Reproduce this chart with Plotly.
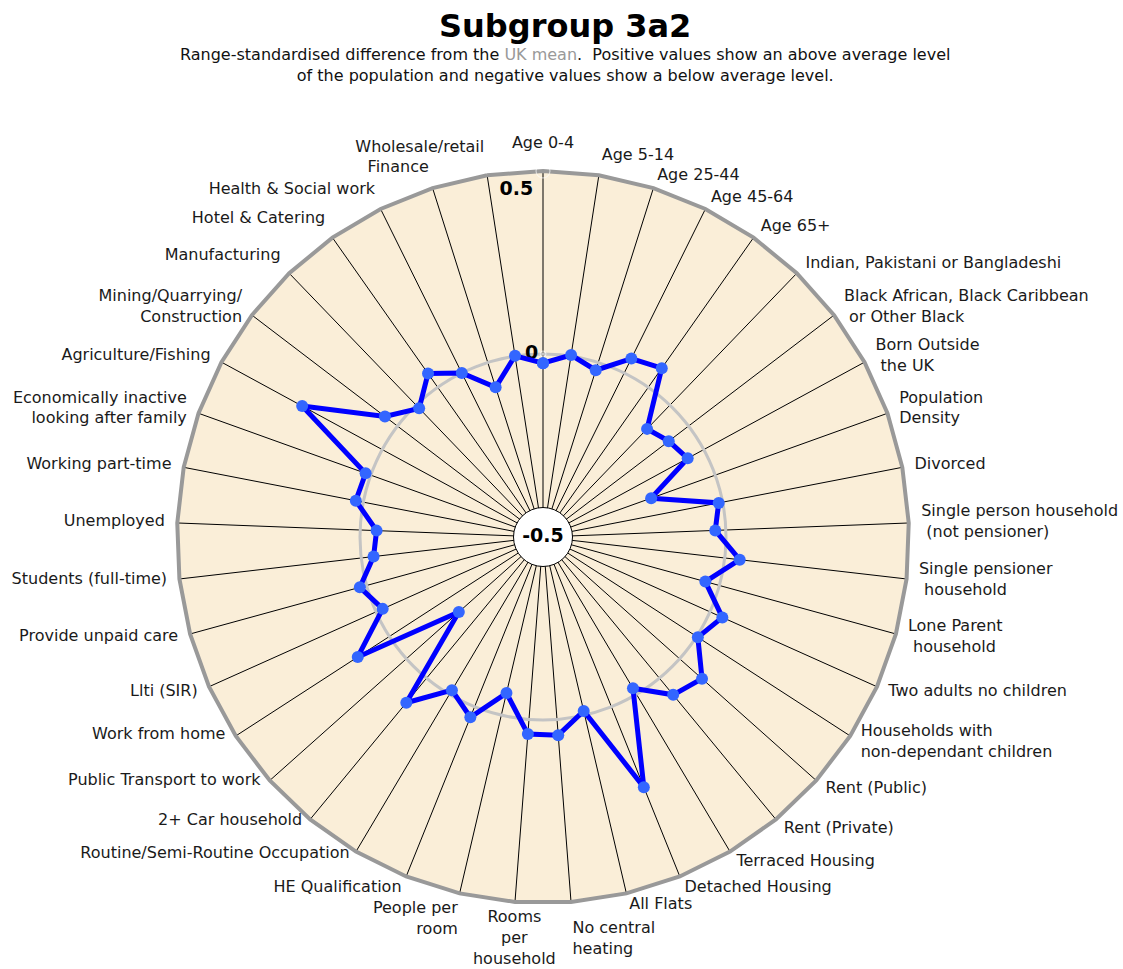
import plotly.graph_objects as go

# Indicator names, clockwise from the top of the chart
categories = [
    "Age 0-4", "Age 5-14", "Age 25-44", "Age 45-64", "Age 65+",
    "Indian, Pakistani or Bangladeshi",
    "Black African, Black Caribbean<br> or Other Black",
    "Born Outside<br> the UK", "Population<br>Density", "Divorced",
    "Single person household<br> (not pensioner)",
    "Single pensioner<br> household", "Lone Parent<br> household",
    "Two adults no children", "Households with<br>non-dependant children",
    "Rent (Public)", "Rent (Private)", "Terraced Housing", "Detached Housing",
    "All Flats", "No central<br>heating", "Rooms<br>per<br>household",
    "People per<br>room", "HE Qualification",
    "Routine/Semi-Routine Occupation", "2+ Car household",
    "Public Transport to work", "Work from home", "Llti (SIR)",
    "Provide unpaid care", "Students (full-time)", "Unemployed",
    "Working part-time", "Economically inactive<br>looking after family",
    "Agriculture/Fishing", "Mining/Quarrying/<br>Construction",
    "Manufacturing", "Hotel & Catering", "Health & Social work", "Finance",
    "Wholesale/retail",
]

# Range-standardised difference from the UK mean for Subgroup 3a2
values = [
    -0.025, 0.003, -0.022, 0.044, 0.064,
    -0.090, -0.068, -0.050, -0.186, -0.011,
    -0.029, 0.041, -0.040, 0.037, 0.004,
    0.082, 0.059, -0.019, 0.237, -0.012,
    0.043, 0.040, -0.062, 0.031, -0.013,
    0.087, -0.192, 0.103, -0.020, 0.019,
    -0.034, -0.045, 0.021, 0.015, 0.249,
    0.043, -0.012, 0.046, 0.000, -0.071,
    0.001,
]

radial_range = [-0.5, 0.5]
radial_labels = ["0.5", "0"]
radial_label_values = [0.5, 0.0]

FONT = "DejaVu Sans, Verdana, sans-serif"
W, H = 1123, 969
CX, CY, RIM = 543, 537, 366          # centre and rim radius of the chart, px
OVERSHOOT = 0.1                      # extra radial room on the overlay for labels
NEAR, SIDE, FAR = 0.022, 0.034, 0.052  # label distance beyond the rim (radial units)


def domain_for(radius):
    return dict(x=[(CX - radius) / W, (CX + radius) / W],
                y=[(H - CY - radius) / H, (H - CY + radius) / H])


def label_layout(index, count, name):
    """Text position and distance from the rim for a category name."""
    a = index * 360.0 / count
    multiline = "<br>" in name
    if index == 0:
        return "top center", FAR
    if a < 10:
        return "middle right", FAR
    if a < 170:
        return "middle right", SIDE
    if a < 180:
        return "bottom right", FAR
    if a < 190:
        return "bottom center", NEAR
    if a < 200:
        return "bottom left", NEAR
    if 205 < a < 240 or 305 < a < 350:
        return ("middle left" if multiline else "top left"), SIDE
    if a > 350:
        return "top left", FAR
    return "middle left", SIDE


layouts = [label_layout(i, len(categories), c) for i, c in enumerate(categories)]

fig = go.Figure()

# Invisible trace that anchors the polygon frame subplot
fig.add_trace(go.Scatterpolar(
    r=[None] * len(categories), theta=categories, mode="lines",
    showlegend=False, hoverinfo="skip", subplot="polar",
))

# Category names just outside the rim
fig.add_trace(go.Scatterpolar(
    r=[radial_range[1] + gap for _, gap in layouts], theta=categories,
    mode="text", text=categories,
    textposition=[pos for pos, _ in layouts],
    textfont=dict(family=FONT, size=16, color="#1a1a1a"),
    cliponaxis=False, showlegend=False, hoverinfo="skip", subplot="polar2",
))

# Radial value labels along the top spoke
fig.add_trace(go.Scatterpolar(
    r=radial_label_values, theta=[categories[0]] * 2, mode="markers+text",
    marker=dict(size=[14, 6], color="rgba(0,0,0,0)"),
    text=[f"<b>{t}</b>" for t in radial_labels],
    textposition=["bottom left", "middle left"],
    textfont=dict(family=FONT, size=19, color="#000000"),
    cliponaxis=False, showlegend=False, hoverinfo="skip", subplot="polar2",
))

# Profile line, closed back to the first indicator
fig.add_trace(go.Scatterpolar(
    r=values + values[:1], theta=categories + categories[:1],
    mode="lines+markers",
    line=dict(color="#0000FF", width=5),
    marker=dict(color="#3366FF", size=12),
    showlegend=False, subplot="polar2",
))

# Centre disc marking the bottom of the radial scale
fig.add_trace(go.Scatterpolar(
    r=[radial_range[0]], theta=[categories[0]], mode="markers+text",
    marker=dict(color="#FFFFFF", size=59, line=dict(color="#000000", width=1)),
    text=["<b>-0.5</b>"], textposition="middle center",
    textfont=dict(family=FONT, size=19, color="#000000"),
    showlegend=False, hoverinfo="skip", subplot="polar2",
))

angular_common = dict(
    type="category", categoryorder="array", categoryarray=categories,
    direction="clockwise", rotation=90,
)

fig.update_layout(
    width=W, height=H,
    margin=dict(l=0, r=0, t=0, b=0),
    paper_bgcolor="#FFFFFF",
    font=dict(family=FONT, color="#111111"),
    # Polygon frame: beige face, black spokes, grey rim
    polar=dict(
        domain=domain_for(RIM),
        gridshape="linear",
        bgcolor="#FAEED8",
        radialaxis=dict(range=radial_range, showgrid=False, showline=False,
                        showticklabels=False, ticks=""),
        angularaxis=dict(
            **angular_common,
            showline=True, linecolor="#999999", linewidth=4,
            showgrid=True, gridcolor="#000000", gridwidth=1,
            showticklabels=False, ticks="",
        ),
    ),
    # Transparent overlay on the same scale: zero circle, data and labels
    polar2=dict(
        domain=domain_for(RIM * (1 + OVERSHOOT)),
        bgcolor="rgba(0,0,0,0)",
        radialaxis=dict(range=[radial_range[0], radial_range[1] + OVERSHOOT],
                        tickvals=[0.0], showline=False,
                        showticklabels=False, ticks="",
                        showgrid=True, gridcolor="#C4C4C4", gridwidth=3),
        angularaxis=dict(**angular_common, showline=False, showgrid=False,
                         showticklabels=False, ticks=""),
    ),
    annotations=[
        dict(text="<b>Subgroup 3a2</b>", x=565 / W, y=1 - 26 / H,
             xref="paper", yref="paper", xanchor="center", yanchor="middle",
             showarrow=False,
             font=dict(family=FONT, size=32, color="#000000")),
        dict(text=("Range-standardised difference from the "
                   "<span style='color:#999999'>UK mean</span>.  Positive values "
                   "show an above average level<br>of the population and negative "
                   "values show a below average level."),
             x=565 / W, y=1 - 65 / H, xref="paper", yref="paper",
             xanchor="center", yanchor="middle",
             showarrow=False, align="center",
             font=dict(family=FONT, size=16, color="#111111")),
    ],
)

fig.write_html("out.html")
